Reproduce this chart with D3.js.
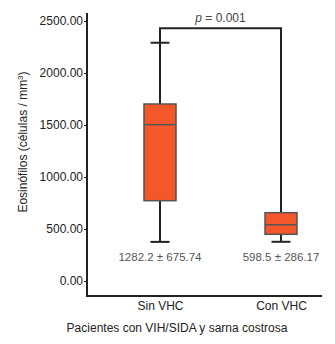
<!DOCTYPE html>
<html>
<head>
<meta charset="utf-8">
<script src="https://cdn.jsdelivr.net/npm/d3@7"></script>
<style>
  body { margin: 0; background: #fff; }
  text { font-family: "Liberation Sans", Arial, sans-serif; }
</style>
</head>
<body>
<div id="chart"></div>
<script>
// groups and box statistics
var groups = ["Sin VHC", "Con VHC"];
var whiskerLow = [376, 377];
var q1 = [772, 449];
var median = [1503, 541];
var q3 = [1702, 657];
var whiskerHigh = [2291, 657];
var summary = ["1282.2 \u00b1 675.74", "598.5 \u00b1 286.17"];
var yTicks = [0, 500, 1000, 1500, 2000, 2500];
var bracketValue = 2430;
var pLabel = "0.001";

var margin = {top: 21, right: 13, bottom: 48, left: 87},
    width = 335 - margin.left - margin.right,
    height = 344 - margin.top - margin.bottom;

var svg = d3.select("#chart")
  .append("svg")
    .attr("width", 335)
    .attr("height", 344)
  .append("g")
    .attr("transform", "translate(" + margin.left + "," + margin.top + ")");

var y = d3.scaleLinear()
  .domain([0, 2500])
  .range([260, 0]);

var x = d3.scalePoint()
  .domain(groups)
  .range([73, 194]);

var boxW = 32, capW = 19;

// y axis ticks
var yAxis = svg.append("g")
  .call(d3.axisLeft(y).tickValues(yTicks).tickFormat(d3.format(".2f")).tickSize(3).tickPadding(1));
yAxis.select(".domain").remove();
yAxis.selectAll("line").attr("stroke", "#222");
yAxis.selectAll("text").attr("fill", "#222").style("font-size", "12px");

// x axis labels
var xAxis = svg.append("g")
  .attr("transform", "translate(0,275)")
  .call(d3.axisBottom(x).tickSize(0).tickPadding(5));
xAxis.select(".domain").remove();
xAxis.selectAll("text").attr("fill", "#222").style("font-size", "12px");

// axis lines
svg.append("line")
  .attr("x1", 0).attr("x2", 0)
  .attr("y1", -8).attr("y2", 276)
  .attr("stroke", "#222").attr("stroke-width", 2);
svg.append("line")
  .attr("x1", -1).attr("x2", width)
  .attr("y1", 275).attr("y2", 275)
  .attr("stroke", "#222").attr("stroke-width", 2);

// significance bracket (also acts as upper whisker line)
svg.append("path")
  .attr("d", "M" + x(groups[0]) + "," + y(q3[0]) +
             "V" + y(bracketValue) +
             "H" + x(groups[1]) +
             "V" + y(q3[1]))
  .attr("fill", "none")
  .attr("stroke", "#222")
  .attr("stroke-width", 2);

var p = svg.append("text")
  .attr("x", (x(groups[0]) + x(groups[1])) / 2)
  .attr("y", y(bracketValue) - 6)
  .attr("text-anchor", "middle")
  .attr("fill", "#444")
  .style("font-size", "12px");
p.append("tspan").attr("font-style", "italic").text("p");
p.append("tspan").text(" = " + pLabel);

var data = groups.map(function(g, i) {
  return {group: g, lo: whiskerLow[i], q1: q1[i], med: median[i], q3: q3[i], hi: whiskerHigh[i], label: summary[i]};
});

var box = svg.selectAll(".box")
  .data(data)
  .enter()
  .append("g")
    .attr("class", "box");

// lower whisker
box.append("line")
  .attr("x1", function(d) { return x(d.group); })
  .attr("x2", function(d) { return x(d.group); })
  .attr("y1", function(d) { return y(d.lo); })
  .attr("y2", function(d) { return y(d.q1); })
  .attr("stroke", "#222").attr("stroke-width", 2);

// caps
box.append("line")
  .attr("x1", function(d) { return x(d.group) - capW / 2; })
  .attr("x2", function(d) { return x(d.group) + capW / 2; })
  .attr("y1", function(d) { return y(d.lo); })
  .attr("y2", function(d) { return y(d.lo); })
  .attr("stroke", "#222").attr("stroke-width", 2);
box.filter(function(d) { return d.hi > d.q3; })
  .append("line")
  .attr("x1", function(d) { return x(d.group) - capW / 2; })
  .attr("x2", function(d) { return x(d.group) + capW / 2; })
  .attr("y1", function(d) { return y(d.hi); })
  .attr("y2", function(d) { return y(d.hi); })
  .attr("stroke", "#222").attr("stroke-width", 2);

box.append("rect")
  .attr("x", function(d) { return x(d.group) - boxW / 2; })
  .attr("y", function(d) { return y(d.q3); })
  .attr("width", boxW)
  .attr("height", function(d) { return y(d.q1) - y(d.q3); })
  .attr("fill", "#f4582a")
  .attr("stroke", "#555")
  .attr("stroke-width", 1.5);

box.append("line")
  .attr("x1", function(d) { return x(d.group) - boxW / 2; })
  .attr("x2", function(d) { return x(d.group) + boxW / 2; })
  .attr("y1", function(d) { return y(d.med); })
  .attr("y2", function(d) { return y(d.med); })
  .attr("stroke", "#555").attr("stroke-width", 1.5);

box.append("text")
  .attr("x", function(d) { return x(d.group); })
  .attr("y", 240)
  .attr("text-anchor", "middle")
  .attr("fill", "#555")
  .style("font-size", "11.5px")
  .text(function(d) { return d.label; });

// axis titles
svg.append("text")
  .attr("x", 90)
  .attr("y", 311)
  .attr("text-anchor", "middle")
  .attr("fill", "#222")
  .style("font-size", "12px")
  .text("Pacientes con VIH/SIDA y sarna costrosa");

var yt = svg.append("text")
  .attr("transform", "translate(-60,121) rotate(-90)")
  .attr("text-anchor", "middle")
  .attr("fill", "#222")
  .style("font-size", "12px");
yt.append("tspan").text("Eosin\u00f3filos (c\u00e9lulas / mm");
yt.append("tspan").attr("dy", -4).style("font-size", "8px").text("3");
yt.append("tspan").attr("dy", 4).text(")");
</script>
</body>
</html>
